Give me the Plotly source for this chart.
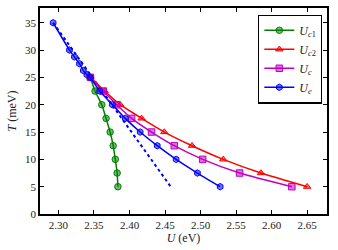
import plotly.graph_objects as go

# Data
T_c1 = [25, 22.5, 20, 17.5, 15, 12.5, 10, 7.5, 5]
U_c1 = [2.345, 2.3515, 2.361, 2.367, 2.3727, 2.377, 2.380, 2.3826, 2.3836]

T_c2 = [25, 22.5, 20, 17.5, 15, 12.5, 10, 7.5, 5]
U_c2 = [2.345, 2.365, 2.387, 2.417, 2.449, 2.488, 2.532, 2.585, 2.650]

T_c = [25, 22.5, 20, 17.5, 15, 12.5, 10, 7.5, 5]
U_c = [2.345, 2.363, 2.382, 2.403, 2.431, 2.463, 2.503, 2.555, 2.6285]

T_e = [35, 30, 28.75, 27.5, 26.25, 25.5, 25, 22.5, 20, 17.5, 15, 12.5, 10, 7.5, 5]
U_e = [2.2925, 2.3155, 2.3225, 2.3296, 2.335, 2.340, 2.3446, 2.358, 2.376, 2.394,
       2.415, 2.439, 2.4656, 2.4956, 2.5276]

T_lin = [35, 5]
U_lin = [2.2925, 2.458]

x_ticks = [2.30, 2.35, 2.40, 2.45, 2.50, 2.55, 2.60, 2.65]
y_ticks = [0, 5, 10, 15, 20, 25, 30, 35]

FONT = "Liberation Serif"

series = [
    (U_c1, T_c1, "#008000", "rgba(0,128,0,0.55)", "circle", "<i>U</i><sub><i>c</i>1</sub>"),
    (U_c2, T_c2, "#ff0000", "rgba(255,0,0,0.55)", "triangle-up", "<i>U</i><sub><i>c</i>2</sub>"),
    (U_c, T_c, "#bf00bf", "rgba(191,0,191,0.55)", "square", "<i>U</i><sub><i>c</i></sub>"),
    (U_e, T_e, "#0000ff", "rgba(0,0,255,0.55)", "hexagon", "<i>U</i><sub><i>e</i></sub>"),
]

fig = go.Figure()
fig.add_trace(go.Scatter(
    x=U_lin, y=T_lin, mode="lines", showlegend=False,
    line=dict(color="#0000ff", width=2, dash="dot"),
))
for ux, ty, lc, fc, sym, name in series:
    fig.add_trace(go.Scatter(
        x=ux, y=ty, mode="lines+markers", name=name,
        line=dict(color=lc, width=1.5, shape="spline", smoothing=0.6),
        marker=dict(symbol=sym, size=6.5, color=fc, line=dict(color=lc, width=1)),
    ))

axis_common = dict(
    showgrid=False, zeroline=False, showline=True, linecolor="black", linewidth=1.5,
    mirror="ticks", ticks="inside", ticklen=4, tickcolor="black", tickwidth=1,
    tickfont=dict(family=FONT, size=11, color="#222"),
)

fig.update_layout(
    width=338, height=250,
    margin=dict(l=40, r=11, t=6, b=36),
    paper_bgcolor="white", plot_bgcolor="white",
    font=dict(family=FONT, size=11, color="#222"),
    xaxis=dict(range=[2.274, 2.678], tickvals=x_ticks,
               ticktext=[f"{v:.2f}" for v in x_ticks],
               title=dict(text="<i>U</i> (eV)", font=dict(family=FONT, size=12), standoff=3),
               **axis_common),
    yaxis=dict(range=[0, 37.7], tickvals=y_ticks,
               ticktext=[str(v) for v in y_ticks],
               title=dict(text="<i>T</i> (meV)", font=dict(family=FONT, size=12), standoff=6),
               **axis_common),
    legend=dict(x=0.983, y=0.968, xanchor="right", yanchor="top",
                bgcolor="white", bordercolor="black", borderwidth=1.2,
                font=dict(family=FONT, size=12, color="#222"), tracegroupgap=0,
                itemwidth=30),
    showlegend=True,
)

fig.write_html("out.html", config={"displayModeBar": False},
               post_script="document.body.style.margin='0px';")
